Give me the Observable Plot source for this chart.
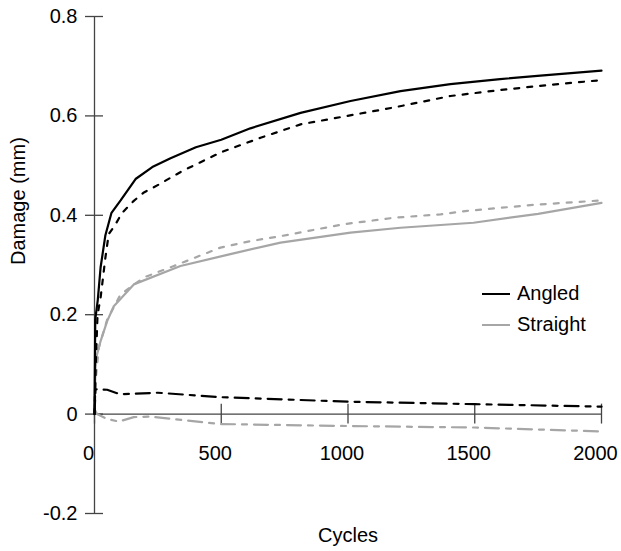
<!DOCTYPE html>
<html>
<head>
<meta charset="utf-8">
<script src="https://cdn.jsdelivr.net/npm/d3@7"></script>
<script src="https://cdn.jsdelivr.net/npm/@observablehq/plot@0.6"></script>
<style>
  html, body { margin: 0; padding: 0; background: #fff; }
  #wrap { position: relative; width: 621px; height: 551px; font-family: "Liberation Sans", Arial, Helvetica, sans-serif; }
  #legend { position: absolute; left: 482px; top: 278px; font-size: 20px; color: #000; }
  #legend .row { display: flex; align-items: center; height: 31px; }
  #legend svg { margin-right: 7px; }
</style>
</head>
<body>
<div id="wrap"><div id="legend"></div></div>
<script>
// Tick values
const xTicks = [0, 500, 1000, 1500, 2000];
const yTicks = [-0.2, 0, 0.2, 0.4, 0.6, 0.8];

// Series: [cycles, damage (mm)]
const angledSolid = [[0,0],[3,0.19],[13,0.23],[24,0.295],[43,0.36],[67,0.405],[103,0.43],[162,0.473],[228,0.497],[300,0.515],[400,0.537],[500,0.552],[615,0.575],[813,0.606],[1010,0.630],[1207,0.650],[1404,0.664],[1600,0.674],[1759,0.681],[2000,0.691]];
const angledDashed = [[0,0],[5,0.1],[12,0.2],[24,0.234],[43,0.315],[56,0.362],[83,0.382],[109,0.405],[155,0.429],[195,0.446],[254,0.462],[346,0.489],[500,0.527],[655,0.556],[813,0.583],[997,0.600],[1181,0.617],[1404,0.640],[1600,0.652],[1786,0.662],[2000,0.672]];
const angledDashDot = [[0,0],[4,0.05],[50,0.049],[100,0.040],[250,0.043],[500,0.034],[1000,0.025],[1500,0.02],[2000,0.015]];
const straightSolid = [[0,0],[2,0.05],[4,0.093],[10,0.12],[24,0.147],[50,0.187],[76,0.217],[155,0.261],[339,0.298],[536,0.322],[734,0.345],[1010,0.365],[1207,0.375],[1495,0.385],[1750,0.403],[2000,0.425]];
const straightDashed = [[0,0],[5,0.07],[17,0.134],[50,0.19],[103,0.241],[195,0.275],[313,0.298],[497,0.335],[615,0.348],[734,0.358],[983,0.382],[1181,0.395],[1365,0.402],[1470,0.409],[1732,0.421],[2000,0.430]];
const straightDashDot = [[0,0.01],[10,0.0],[50,-0.01],[96,-0.015],[155,-0.006],[220,-0.005],[497,-0.02],[1000,-0.024],[1500,-0.027],[2000,-0.035]];

const seriesNames = ["Angled", "Straight"];
const seriesColors = ["#000000", "#a6a6a6"];
const axisColor = "#444444";

const lineOpts = (color, dash) => ({x: d => d[0], y: d => d[1], stroke: color, strokeWidth: 2.2, strokeDasharray: dash, strokeLinejoin: "round"});

const chart = Plot.plot({
  width: 621,
  height: 551,
  marginLeft: 94,
  marginRight: 20,
  marginTop: 16,
  marginBottom: 38,
  x: {domain: [0, 2000], axis: null},
  y: {domain: [-0.2, 0.8], axis: null},
  style: {fontFamily: "'Liberation Sans', Arial, Helvetica, sans-serif", fontSize: "20px", color: "#000", background: "#fff", overflow: "visible"},
  marks: [
    Plot.ruleX([0], {y1: -0.2, y2: 0.8, stroke: axisColor, strokeWidth: 1.3}),
    Plot.ruleY(yTicks, {y: d => d, x1: -35.5, x2: 35.5, stroke: axisColor, strokeWidth: 1.3}),
    Plot.text(yTicks, {y: d => d, frameAnchor: "left", dx: -17, textAnchor: "end", text: d => String(+d.toFixed(1)), fontSize: 20, fill: "#000"}),
    Plot.ruleY([0], {stroke: axisColor, strokeWidth: 1.3}),
    Plot.ruleX(xTicks, {x: d => d, y1: -0.02, y2: 0.02, stroke: axisColor, strokeWidth: 1.3}),
    Plot.text(xTicks, {x: d => d, y: 0, dy: 39, dx: -6, text: d => String(d), fontSize: 20, fill: "#000"}),
    Plot.text(["Cycles"], {frameAnchor: "bottom", dy: 28, fontSize: 20, fill: "#000"}),
    Plot.text(["Damage (mm)"], {frameAnchor: "left", dx: -76, rotate: -90, fontSize: 20, fill: "#000"}),
    Plot.line(straightDashDot, lineOpts(seriesColors[1], "14,7,5,7")),
    Plot.line(straightDashed, lineOpts(seriesColors[1], "5,8")),
    Plot.line(straightSolid, lineOpts(seriesColors[1], null)),
    Plot.line(angledDashDot, lineOpts(seriesColors[0], "14,7,5,7")),
    Plot.line(angledDashed, lineOpts(seriesColors[0], "5,8")),
    Plot.line(angledSolid, lineOpts(seriesColors[0], null))
  ]
});
const wrap = document.getElementById("wrap");
wrap.insertBefore(chart, wrap.firstChild);
chart.style.display = "block";

const legend = document.getElementById("legend");
seriesNames.forEach((name, i) => {
  const row = document.createElement("div");
  row.className = "row";
  row.innerHTML = `<svg width="28" height="4"><line x1="0" x2="28" y1="2" y2="2" stroke="${seriesColors[i]}" stroke-width="2"/></svg><span>${name}</span>`;
  legend.appendChild(row);
});
</script>
</body>
</html>
